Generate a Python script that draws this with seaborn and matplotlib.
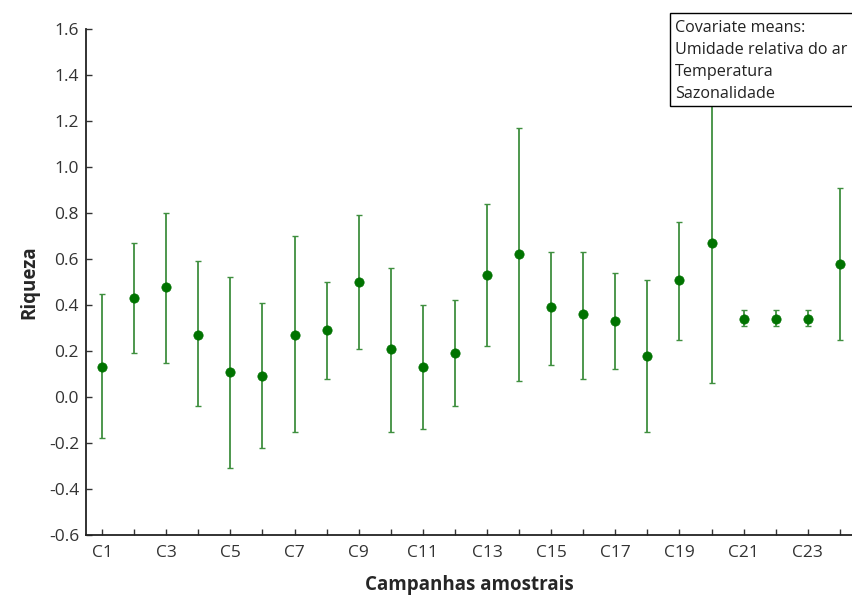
import numpy as np
import pandas as pd
import matplotlib
matplotlib.use("Agg")
import matplotlib.pyplot as plt
import seaborn as sns
from matplotlib.patches import Rectangle

# valores
campanhas = ["C%d" % i for i in range(1, 25)]
riqueza = [0.13, 0.43, 0.48, 0.27, 0.11, 0.09, 0.27, 0.29, 0.50, 0.21, 0.13, 0.19,
           0.53, 0.62, 0.39, 0.36, 0.33, 0.18, 0.51, 0.67, 0.34, 0.34, 0.34, 0.58]
inferior = [-0.18, 0.19, 0.15, -0.04, -0.31, -0.22, -0.15, 0.08, 0.21, -0.15, -0.14, -0.04,
            0.22, 0.07, 0.14, 0.08, 0.12, -0.15, 0.25, 0.06, 0.31, 0.31, 0.31, 0.25]
superior = [0.45, 0.67, 0.80, 0.59, 0.52, 0.41, 0.70, 0.50, 0.79, 0.56, 0.40, 0.42,
            0.84, 1.17, 0.63, 0.63, 0.54, 0.51, 0.76, 1.28, 0.38, 0.38, 0.38, 0.91]
covariaveis = ["Covariate means:", "Umidade relativa do ar", "Temperatura", "Sazonalidade"]

df = pd.DataFrame({"pos": np.arange(1, 25), "campanha": campanhas, "riqueza": riqueza,
                   "inf": inferior, "sup": superior})

sns.set_style("white")
plt.rcParams['font.family'] = ['Open Sans', 'DejaVu Sans']

fig = plt.figure(figsize=(8.53, 5.97), dpi=100)
ax = fig.add_axes([86/853, 62/597, 767/853, 506/597])

ax.errorbar(df.pos, df.riqueza, yerr=[df.riqueza - df.inf, df.sup - df.riqueza],
            fmt="none", ecolor="#3f8f3f", elinewidth=1.3, capsize=2.5, capthick=1.0, zorder=2)
sns.scatterplot(data=df, x="pos", y="riqueza", ax=ax, color="#007300", s=45,
                marker="o", edgecolor="#007300", linewidth=0.5, zorder=3)

ax.set_xlim(0.5, 0.5 + 767/32.08)
ax.set_ylim(-0.6, 1.6)
ax.set_yticks(np.arange(-0.6, 1.61, 0.2))
ax.set_yticklabels(["%.1f" % v for v in np.arange(-0.6, 1.61, 0.2)])
ax.set_xticks(df.pos)
ax.set_xticklabels([c if i % 2 == 0 else "" for i, c in enumerate(campanhas)])
ax.tick_params(direction="in", length=4, width=1, colors="#333333", labelsize=12.5,
               bottom=True, left=True)
ax.tick_params(axis="x", pad=7)
ax.tick_params(axis="y", pad=5)
for s in ["top", "right"]:
    ax.spines[s].set_visible(False)
for s in ["left", "bottom"]:
    ax.spines[s].set_color("#222222")
    ax.spines[s].set_linewidth(1.3)

ax.set_xlabel("Campanhas amostrais", fontsize=13.5, fontweight="bold", labelpad=10)
ax.set_ylabel("Riqueza", fontsize=13.5, fontweight="bold", labelpad=7)

# caixa das covariaveis (vai ate a borda direita, como no original)
fig.patches.append(Rectangle((670/853, (597-106)/597), 0.3, 93/597, transform=fig.transFigure,
                             facecolor="white", edgecolor="black", linewidth=1, zorder=5))
for i, t in enumerate(covariaveis):
    fig.text(675/853, 1 - (28 + i*22)/597, t, fontsize=11.6, color="#222222",
             va="center", ha="left", zorder=6)

plt.savefig("out.png", dpi=100)
